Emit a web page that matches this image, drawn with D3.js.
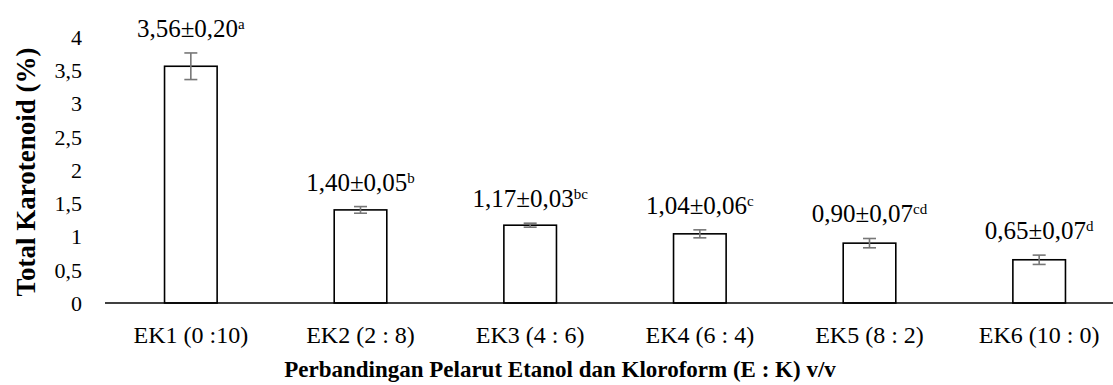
<!DOCTYPE html>
<html>
<head>
<meta charset="utf-8">
<script src="https://cdn.jsdelivr.net/npm/d3@7"></script>
<style>
  html, body { margin: 0; padding: 0; background: #fff; }
  svg { display: block; }
  svg text { font-family: "Liberation Serif", "Times New Roman", Times, "DejaVu Serif", serif !important; fill: #000; }
</style>
</head>
<body>
<svg id="chart" width="1113" height="385"></svg>
<script>
// Total carotenoid content for each ethanol : chloroform solvent ratio
const categories = ["EK1 (0 :10)", "EK2 (2 : 8)", "EK3 (4 : 6)", "EK4 (6 : 4)", "EK5 (8 : 2)", "EK6 (10 : 0)"];
const means      = [3.56, 1.40, 1.17, 1.04, 0.90, 0.65];
const sds        = [0.20, 0.05, 0.03, 0.06, 0.07, 0.07];
const letters    = ["a", "b", "bc", "c", "cd", "d"];
const yTicks     = [0, 0.5, 1, 1.5, 2, 2.5, 3, 3.5, 4];

const svg = d3.select("#chart");
const fmt = v => d3.format(".2f")(v).replace(".", ",");
const tickFmt = v => String(v).replace(".", ",");

const x = d3.scaleBand().domain(categories).range([106, 1124]).paddingInner(0).paddingOuter(0);
const y = d3.scaleLinear().domain([0, 4]).range([303, 37]);
const barW = x.bandwidth() * 0.31;

const data = categories.map((c, i) => ({ c, m: means[i], s: sds[i], l: letters[i] }));

// y tick labels (no axis line, no tick marks)
const yAxis = svg.append("g")
  .call(d3.axisLeft(y).tickValues(yTicks).tickFormat(tickFmt).tickSize(0).tickPadding(0));
yAxis.attr("font-family", null).attr("font-size", null);
yAxis.select(".domain").remove();
yAxis.selectAll("text")
  .attr("x", 82)
  .attr("dy", "0.33em")
  .style("font-size", "22px")
  .attr("fill", "#000");

// bars
svg.append("g").selectAll("rect").data(data).join("rect")
  .attr("x", d => x(d.c) + x.bandwidth() / 2 - barW / 2)
  .attr("y", d => y(d.m))
  .attr("width", barW)
  .attr("height", d => y(0) - y(d.m))
  .attr("fill", "#fff")
  .attr("stroke", "#000")
  .attr("stroke-width", 1.6);

// error bars
const eb = svg.append("g").attr("stroke", "#777").attr("stroke-width", 1.6);
data.forEach(d => {
  const cx = x(d.c) + x.bandwidth() / 2;
  eb.append("line").attr("x1", cx).attr("x2", cx).attr("y1", y(d.m + d.s)).attr("y2", y(d.m - d.s));
  [d.m + d.s, d.m - d.s].forEach(v => {
    eb.append("line").attr("x1", cx - 6.5).attr("x2", cx + 6.5).attr("y1", y(v)).attr("y2", y(v));
  });
});

// x axis baseline
svg.append("line")
  .attr("x1", 105).attr("x2", 1113)
  .attr("y1", y(0)).attr("y2", y(0))
  .attr("stroke", "#000").attr("stroke-width", 1.6);

// x category labels
const xAxis = svg.append("g")
  .attr("transform", `translate(0,${y(0)})`)
  .call(d3.axisBottom(x).tickSize(0).tickPadding(0));
xAxis.attr("font-family", null).attr("font-size", null);
xAxis.select(".domain").remove();
xAxis.selectAll("text")
  .attr("y", 40)
  .attr("dy", 0)
  .style("font-size", "24px")
  .attr("fill", "#000");

// value labels with significance letters
const lbl = svg.append("g").selectAll("text").data(data).join("text")
  .attr("x", d => x(d.c) + x.bandwidth() / 2)
  .attr("y", d => y(d.m + d.s) - 16)
  .attr("text-anchor", "middle")
  .style("font-size", "25px");
lbl.append("tspan").text(d => `${fmt(d.m)}±${fmt(d.s)}`);
lbl.append("tspan").text(d => d.l).attr("dy", -8).style("font-size", "15px");

// axis titles
svg.append("text")
  .attr("x", 560).attr("y", 377)
  .attr("text-anchor", "middle")
  .style("font-size", "23px").style("font-weight", "bold")
  .text("Perbandingan Pelarut Etanol dan Kloroform (E : K) v/v");

svg.append("text")
  .attr("transform", "translate(35,172) rotate(-90)")
  .attr("text-anchor", "middle")
  .style("font-size", "27px").style("font-weight", "bold")
  .text("Total Karotenoid (%)");
</script>
</body>
</html>
